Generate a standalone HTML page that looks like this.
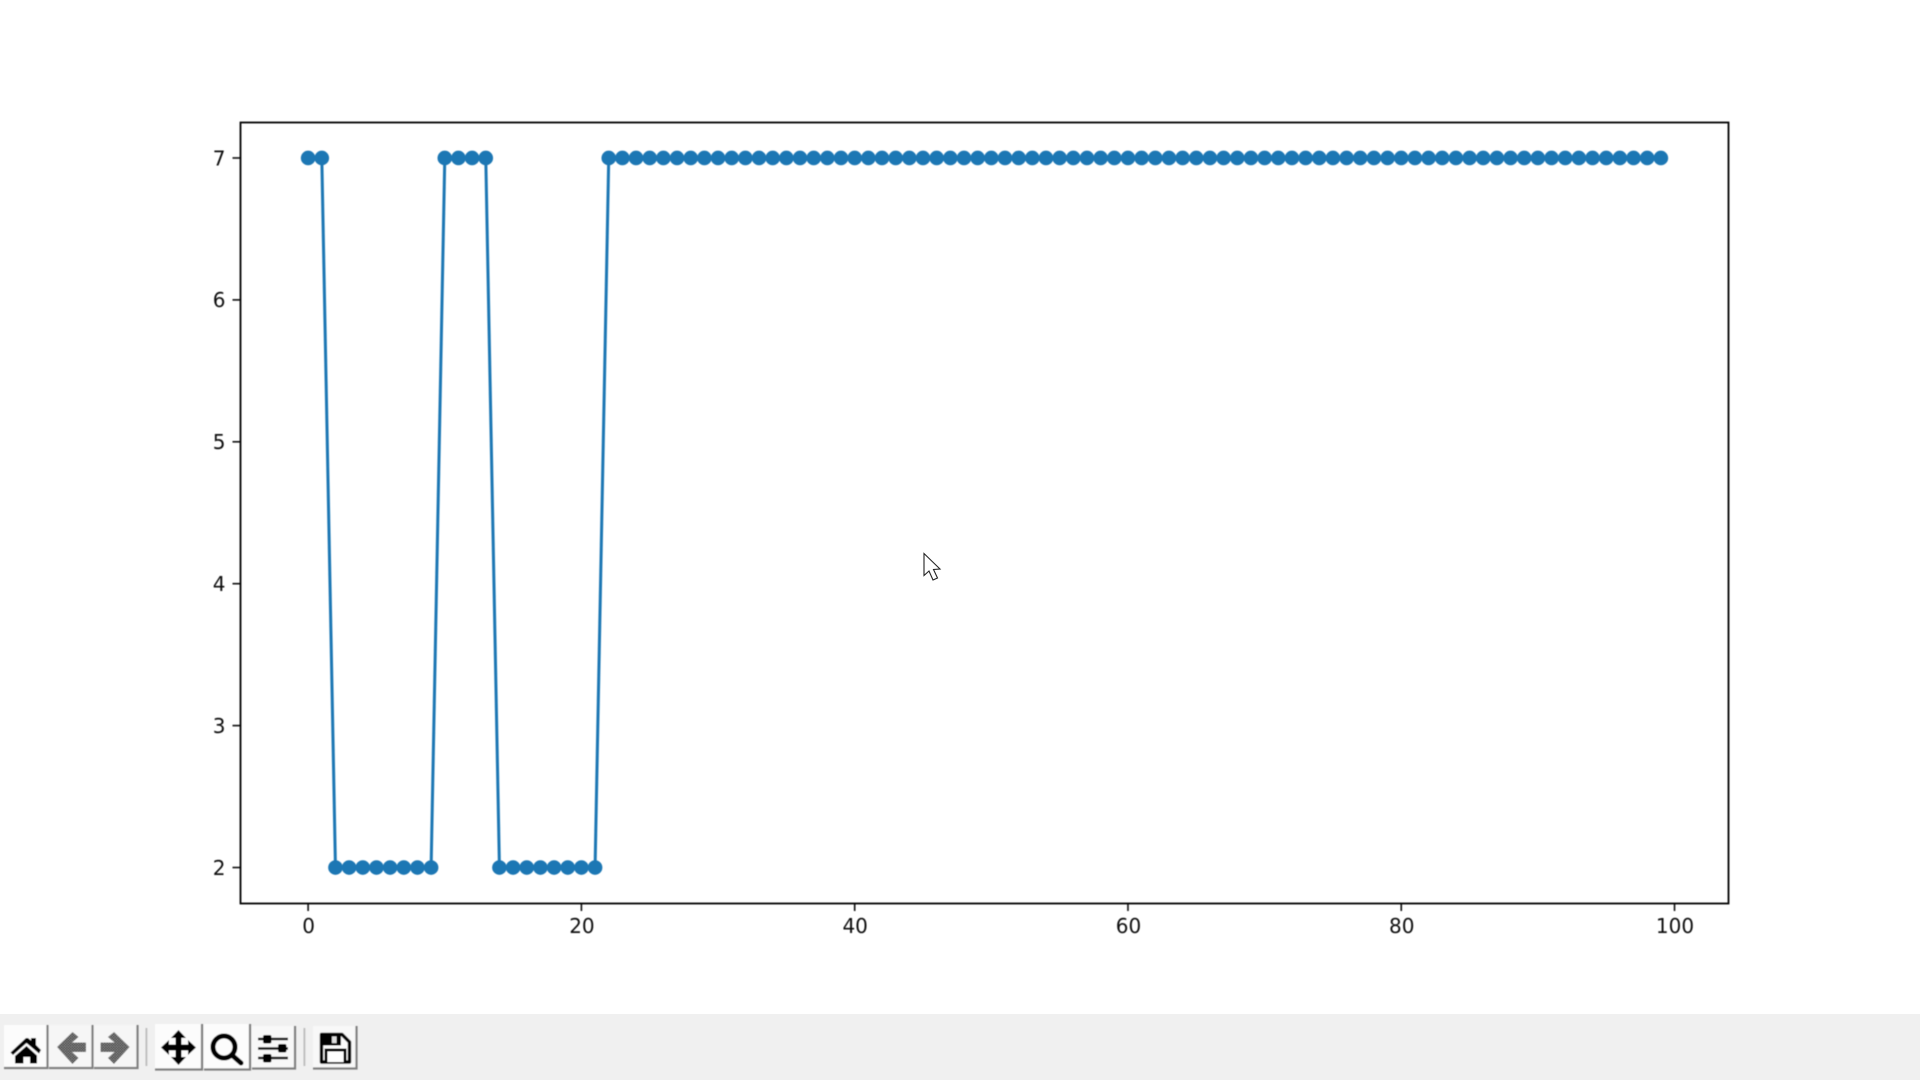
<!DOCTYPE html>
<html>
<head>
<meta charset="utf-8">
<title>Figure</title>
<style>
html,body{margin:0;padding:0;width:1920px;height:1080px;overflow:hidden;background:#fff;}
svg{display:block;position:absolute;left:0;top:0;}
text{font-family:"DejaVu Sans","Liberation Sans",sans-serif;font-size:20px;fill:#111;}
</style>
</head>
<body>
<svg id="fig" width="1920" height="1080" viewBox="0 0 1920 1080" xmlns="http://www.w3.org/2000/svg">
  <defs>
    <filter id="soft" x="-5%" y="-5%" width="110%" height="110%"><feGaussianBlur stdDeviation="0.5"/></filter>
    <filter id="softer" x="-5%" y="-5%" width="110%" height="110%"><feGaussianBlur stdDeviation="0.65"/></filter>
    <pattern id="dither" width="2.6" height="2.6" patternUnits="userSpaceOnUse"><rect width="2.6" height="2.6" fill="#9a9a9a"/><rect width="1.3" height="1.3" fill="#1c1c1c"/><rect x="1.3" y="1.3" width="1.3" height="1.3" fill="#1c1c1c"/></pattern>
  </defs>
  <rect width="1920" height="1080" fill="#fff"/>
  <g id="plot" filter="url(#soft)">
    <g id="ticks"></g>
    <g id="series"></g>
    <rect x="240.5" y="122.5" width="1488" height="781" fill="none" stroke="#000" stroke-width="1.8"/>
  </g>

  <g>
    <rect x="0" y="1014" width="1920" height="66" fill="#f0f0f0"/>
    <g filter="url(#softer)">
      <g>
        <rect x="4" y="1025" width="43" height="43" fill="#fcfcfc"/>
        <path d="M4 1068H47.5V1025" fill="none" stroke="#808080" stroke-width="2.2"/>
        <path d="M10.500 1052.500 L26 1038 H28 L31 1040.500 V1038 H36 V1045 L41 1050 L39 1053.500 L26.500 1043 L13 1055Z" fill="#000"/>
        <path d="M15 1056 L26.500 1046 L37 1055.500 V1063.500 H30 V1057 H23.500 V1063.500 H15Z" fill="#000"/>
      </g>
      <g>
        <rect x="49" y="1025" width="43" height="43" fill="#f6f6f6"/>
        <path d="M49 1068H92.500V1025" fill="none" stroke="#808080" stroke-width="2.200"/>
        <path d="M57 1047 L72.500 1032 L78.500 1037 L72 1042.500 H86 V1052 H72 L78.500 1058 L72.500 1064Z" fill="url(#dither)"/>
      </g>
      <g>
        <rect x="94" y="1025" width="43" height="43" fill="#f6f6f6"/>
        <path d="M94 1068H137.500V1025" fill="none" stroke="#808080" stroke-width="2.200"/>
        <path d="M129.500 1047 L114 1032 L108 1037 L114.500 1042.500 H100.500 V1052 H114.500 L108 1058 L114 1064Z" fill="url(#dither)"/>
      </g>
      <rect x="145.500" y="1028" width="1.800" height="38" fill="#bcbcbc"/>
      <g>
        <rect x="155" y="1024" width="46" height="45" fill="#fcfcfc"/>
        <path d="M155 1069.500H202V1024" fill="none" stroke="#808080" stroke-width="2.200"/>
        <path d="M178.500 1030 L186 1038 H181.500 V1044.500 H188 V1040 L196 1047.500 L188 1055 V1050.500 H181.500 V1057 H186 L178.500 1065 L171 1057 H175.500 V1050.500 H169 V1055 L161 1047.500 L169 1040 V1044.500 H175.500 V1038 H171Z" fill="#000"/>
      </g>
      <g>
        <rect x="204" y="1024" width="45" height="45" fill="#fcfcfc"/>
        <path d="M204 1069.500H250V1024" fill="none" stroke="#808080" stroke-width="2.200"/>
        <circle cx="224" cy="1047" r="11" fill="none" stroke="#000" stroke-width="5"/>
        <path d="M233 1056 L241 1063" stroke="#000" stroke-width="5" stroke-linecap="round"/>
      </g>
      <g>
        <rect x="252" y="1026" width="42" height="42" fill="#f8f8f8"/>
        <path d="M252 1068.500H295V1026" fill="none" stroke="#808080" stroke-width="2.200"/>
        <path d="M258 1039H288M258 1048.500H288M258 1058H288" stroke="#111" stroke-width="2.600"/>
        <rect x="263" y="1035" width="8.500" height="8.500" rx="2" fill="#000"/>
        <rect x="278" y="1044" width="8.500" height="8.500" rx="2" fill="#000"/>
        <rect x="263" y="1054" width="8.500" height="8.500" rx="2" fill="#000"/>
      </g>
      <rect x="303.500" y="1028" width="1.800" height="38" fill="#bcbcbc"/>
      <g>
        <rect x="313" y="1026" width="43" height="42" fill="#f8f8f8"/>
        <path d="M313 1068.500H356.500V1026" fill="none" stroke="#808080" stroke-width="2.200"/>
        <path d="M321.500 1034.500 H342 L349.500 1042 V1062 H321.500Z" fill="#fbfbfb" stroke="#000" stroke-width="3.400" stroke-linejoin="round"/>
        <path d="M322 1035 H341 V1045.500 H322Z" fill="#000"/>
        <rect x="332" y="1036.500" width="4.500" height="6.500" fill="#ddd"/>
        <path d="M326 1062 V1050 H345 V1062" fill="#fff" stroke="#000" stroke-width="3"/>
      </g>
    </g>
  </g>

  <path d="M924 553.500 V575.500 L929 571 L933 580 L937.500 578 L933.500 569.500 L940 569Z" fill="#fff" stroke="#222" stroke-width="1.100" stroke-linejoin="miter"/>
</svg>
<script>
var xTicks = [0, 20, 40, 60, 80, 100];
var yTicks = [2, 3, 4, 5, 6, 7];
var seriesValues = [
  7, 7, 2, 2, 2, 2, 2, 2, 2, 2,
  7, 7, 7, 7, 2, 2, 2, 2, 2, 2,
  2, 2, 7, 7, 7, 7, 7, 7, 7, 7,
  7, 7, 7, 7, 7, 7, 7, 7, 7, 7,
  7, 7, 7, 7, 7, 7, 7, 7, 7, 7,
  7, 7, 7, 7, 7, 7, 7, 7, 7, 7,
  7, 7, 7, 7, 7, 7, 7, 7, 7, 7,
  7, 7, 7, 7, 7, 7, 7, 7, 7, 7,
  7, 7, 7, 7, 7, 7, 7, 7, 7, 7,
  7, 7, 7, 7, 7, 7, 7, 7, 7, 7
];

var NS = 'http://www.w3.org/2000/svg';
var plotLeft = 240.5, plotRight = 1728.5, plotTop = 122.5, plotBottom = 903;

function minOf(a) { return Math.min.apply(null, a); }
function maxOf(a) { return Math.max.apply(null, a); }

// matplotlib-style autoscale with 5% margins
var xDataMin = 0, xDataMax = seriesValues.length - 1;
var xPad = (xDataMax - xDataMin) * 0.05;
var xDomainMin = xDataMin - xPad, xDomainMax = xDataMax + xPad;
var yDataMin = minOf(seriesValues), yDataMax = maxOf(seriesValues);
var yPad = (yDataMax - yDataMin) * 0.05;
var yDomainMin = yDataMin - yPad, yDomainMax = yDataMax + yPad;

function xScale(v) { return plotLeft + (v - xDomainMin) / (xDomainMax - xDomainMin) * (plotRight - plotLeft); }
function yScale(v) { return plotBottom - (v - yDomainMin) / (yDomainMax - yDomainMin) * (plotBottom - plotTop); }

var ticksGroup = document.getElementById('ticks');
var seriesGroup = document.getElementById('series');

xTicks.forEach(function (t) {
  var x = xScale(t);
  var tick = document.createElementNS(NS, 'line');
  
  
  tick.setAttribute('x1', x);
  tick.setAttribute('x2', x);
  tick.setAttribute('y1', plotBottom);
  tick.setAttribute('y2', plotBottom + 8);
  tick.setAttribute('stroke', '#111');
  tick.setAttribute('stroke-width', '1.6');
  ticksGroup.appendChild(tick);
  var label = document.createElementNS(NS, 'text');
  
  
  label.setAttribute('x', x + 0.5);
  label.setAttribute('y', 933);
  label.setAttribute('text-anchor', 'middle');
  label.textContent = t;
  ticksGroup.appendChild(label);
});

yTicks.forEach(function (t) {
  var y = yScale(t);
  var tick = document.createElementNS(NS, 'line');
  
  
  tick.setAttribute('x1', plotLeft - 8);
  tick.setAttribute('x2', plotLeft);
  tick.setAttribute('y1', y);
  tick.setAttribute('y2', y);
  tick.setAttribute('stroke', '#111');
  tick.setAttribute('stroke-width', '1.6');
  ticksGroup.appendChild(tick);
  var label = document.createElementNS(NS, 'text');
  
  
  label.setAttribute('x', 225.5);
  label.setAttribute('y', y + 7.3);
  label.setAttribute('text-anchor', 'end');
  label.textContent = t;
  ticksGroup.appendChild(label);
});

var pts = seriesValues.map(function (v, i) { return xScale(i).toFixed(2) + ',' + yScale(v).toFixed(2); }).join(' ');
var line = document.createElementNS(NS, 'polyline');


line.setAttribute('points', pts);
line.setAttribute('fill', 'none');
line.setAttribute('stroke', '#1f77b4');
line.setAttribute('stroke-width', '3');
seriesGroup.appendChild(line);

seriesValues.forEach(function (v, i) {
  var c = document.createElementNS(NS, 'circle');
  
  
  c.setAttribute('cx', xScale(i));
  c.setAttribute('cy', yScale(v));
  c.setAttribute('r', 7.3);
  c.setAttribute('fill', '#1f77b4');
  seriesGroup.appendChild(c);
});
</script>
</body>
</html>
